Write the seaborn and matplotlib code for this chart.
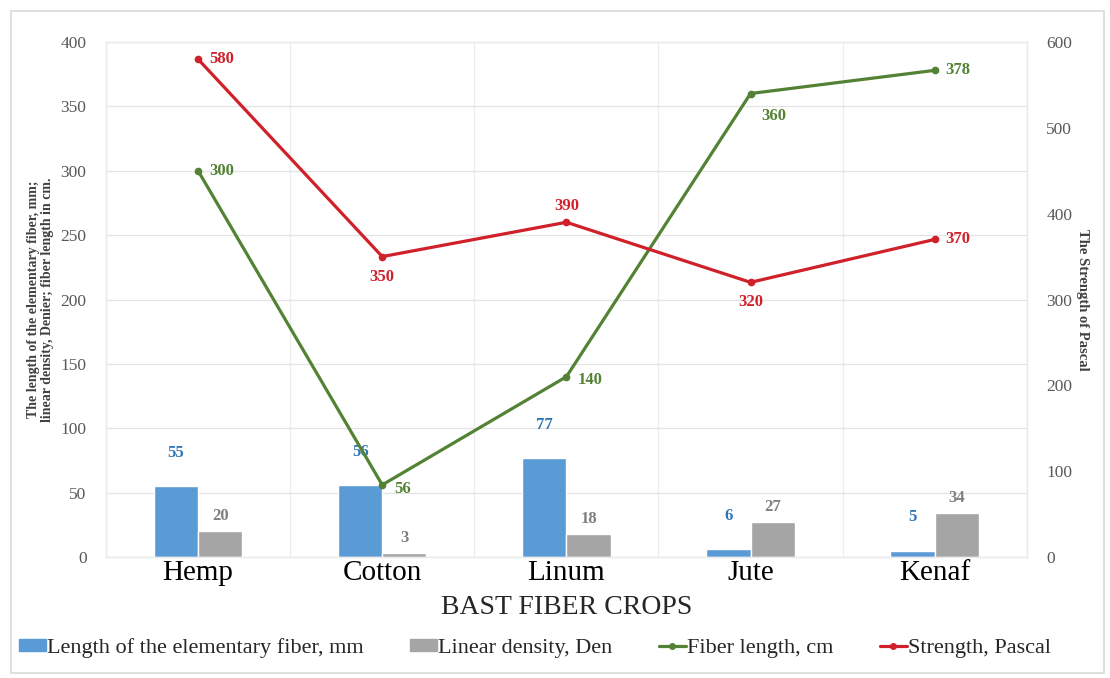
import pandas as pd
import matplotlib.pyplot as plt
import seaborn as sns
import numpy as np
from matplotlib.lines import Line2D
from matplotlib.patches import Patch, Rectangle

# data -----------------------------------------------
crops = ["Hemp", "Cotton", "Linum", "Jute", "Kenaf"]
elem_fiber_mm = [55, 56, 77, 6, 5]
linear_density_den = [20, 3, 18, 27, 34]
fiber_length_cm = [300, 56, 140, 360, 378]
strength_pascal = [580, 350, 390, 320, 370]

bar_names = ["Length of the elementary fiber, mm", "Linear density, Den"]

# colours
blue = "#5B9BD5"
gray = "#A5A5A5"
green = "#548235"
red = "#D0202A"
blue_txt = "#2E75B6"
gray_txt = "#7F7F7F"
tick_c = "#595959"

sns.set_theme(style="white")
plt.rcParams["font.family"] = ["Liberation Serif", "DejaVu Serif"]

df = pd.DataFrame({
    "crop": crops * 2,
    "value": elem_fiber_mm + linear_density_den,
    "series": [bar_names[0]] * 5 + [bar_names[1]] * 5,
})

fig = plt.figure(figsize=(11.1, 6.78), dpi=100)
ax = fig.add_axes([0.0955, 0.1785, 0.8295, 0.7595])

sns.barplot(data=df, x="crop", y="value", hue="series", palette=[blue, gray],
            width=0.48, gap=0, saturation=1, ax=ax, legend=False, order=crops)

x = np.arange(len(crops))
ax.plot(x, fiber_length_cm, color=green, lw=2.3, marker="o", ms=4.5, zorder=5)

ax2 = ax.twinx()
ax2.plot(x, strength_pascal, color=red, lw=2.3, marker="o", ms=4.5, zorder=5)

# axes styling
ax.set_ylim(0, 400)
ax.set_yticks(np.arange(0, 401, 50))
ax2.set_ylim(0, 600)
ax2.set_yticks(np.arange(0, 601, 100))
ax.set_xlim(-0.5, 4.5)
ax.set_xticks(x, crops)
ax.set_xticks(np.arange(-0.5, 5, 1), minor=True)
ax.grid(axis="y", color="#E4E4E4", lw=0.9)
ax.grid(axis="x", which="minor", color="#EDEDED", lw=0.9)
ax.set_axisbelow(True)
for a in (ax, ax2):
    for s in a.spines.values():
        s.set_color("#EAEAEA")
        s.set_linewidth(0.9)
ax.tick_params(axis="y", labelsize=12.5, colors=tick_c, length=0, pad=14)
ax2.tick_params(axis="y", labelsize=12.5, colors=tick_c, length=0, pad=14)
ax.tick_params(axis="x", labelsize=21, colors="black", length=0, pad=2)
ax.tick_params(axis="x", which="minor", length=0)

ax.set_xlabel("BAST FIBER CROPS", fontsize=20, labelpad=7)
ax.set_ylabel("The length of the elementary fiber, mm;\nlinear density, Denier; fiber length in cm.",
              fontsize=10, fontweight="bold", color="#404040", linespacing=1.1)
ax.yaxis.set_label_coords(-0.056, 0.5)
ax2.set_ylabel("The Strength of Pascal", fontsize=10.5, fontweight="bold",
               color="#404040", rotation=270, va="center")
ax2.yaxis.set_label_coords(1.061, 0.5)

# data labels
lab = dict(fontsize=12, fontweight="bold")
for i, v in enumerate(elem_fiber_mm):
    ax.annotate(str(v), (i - 0.12, v), xytext=(0, 24), textcoords="offset points",
                ha="center", va="center", color=blue_txt, **lab)
for i, v in enumerate(linear_density_den):
    ax.annotate(str(v), (i + 0.12, v), xytext=(0, 11), textcoords="offset points",
                ha="center", va="center", color=gray_txt, **lab)

g_off = [(8, 0), (9, -3), (8, -2), (8, -16), (8, 0)]
for i, v in enumerate(fiber_length_cm):
    ax.annotate(str(v), (i, v), xytext=g_off[i], textcoords="offset points",
                ha="left", va="center", color=green, **lab)

r_off = [(8, 0), (0, -15), (0, 12), (0, -14), (8, 0)]
r_ha = ["left", "center", "center", "center", "left"]
for i, v in enumerate(strength_pascal):
    ax2.annotate(str(v), (i, v), xytext=r_off[i], textcoords="offset points",
                 ha=r_ha[i], va="center", color=red, **lab)

# legend
handles = [
    Patch(color=blue, label=bar_names[0]),
    Patch(color=gray, label=bar_names[1]),
    Line2D([0], [0], color=green, lw=2.3, marker="o", ms=4, label="Fiber length, cm"),
    Line2D([0], [0], color=red, lw=2.3, marker="o", ms=4, label="Strength, Pascal"),
]
fig.legend(handles=handles, loc="center", bbox_to_anchor=(0.482, 0.044), ncol=4,
           frameon=False, fontsize=16, handlelength=1.2, handletextpad=0.05,
           columnspacing=2.1, handleheight=0.45)

# outer frame
fig.patches.append(Rectangle((0.01, 0.008), 0.985, 0.976, transform=fig.transFigure,
                             fill=False, edgecolor="#D9D9D9", lw=1.2))

plt.savefig("out.png", dpi=100)
